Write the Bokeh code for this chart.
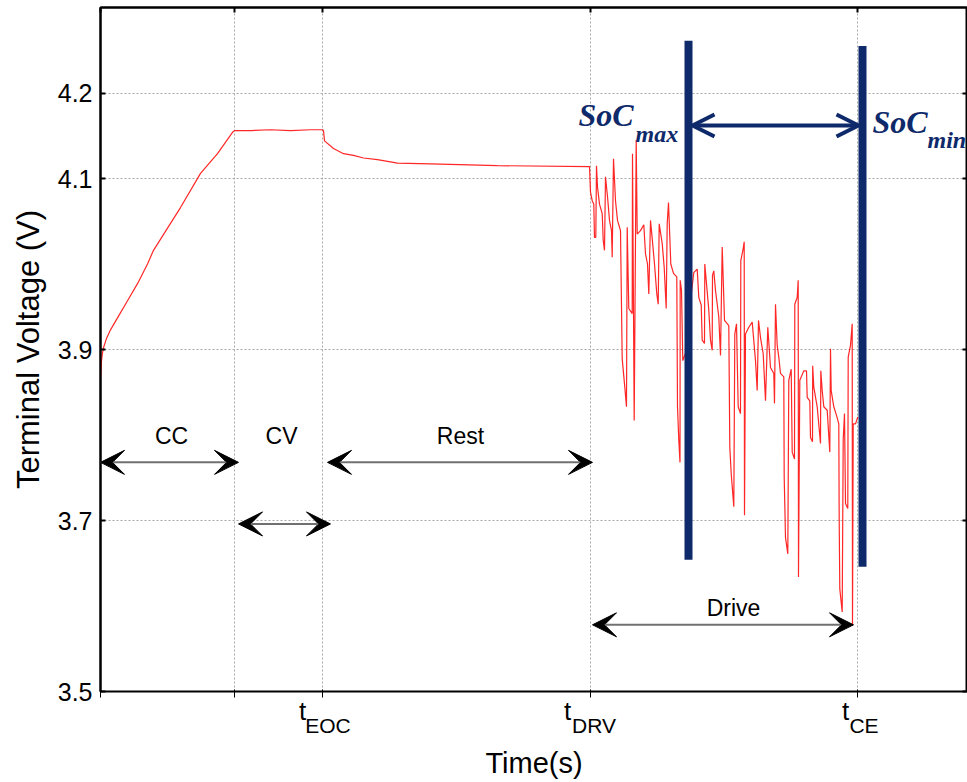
from bokeh.plotting import figure
from bokeh.models import Range1d, FixedTicker, Label, Arrow, VeeHead, OpenHead, LinearAxis
from bokeh.embed import file_html
from bokeh.resources import INLINE

# ---------------- data (time in s, voltage in V) ----------------
charge_t = [0, 10, 20, 30, 60, 100, 170, 270, 370, 470, 530, 670, 800, 1000, 1170, 1320, 1340]
charge_v = [3.866, 3.887, 3.896, 3.902, 3.913, 3.923, 3.937, 3.957, 3.977, 4.000, 4.016,
            4.042, 4.066, 4.106, 4.129, 4.154, 4.156]
cv_t = [1500, 1700, 1900, 2100, 2220]
cv_v = [4.156, 4.157, 4.156, 4.157, 4.157]
rest_t = [2230, 2240, 2330, 2430, 2530, 2630, 2770, 2970, 3300, 3970, 4890]
rest_v = [4.156, 4.144, 4.135, 4.129, 4.127, 4.124, 4.122, 4.118, 4.117, 4.115, 4.114]
drive_t = [4900, 4917, 4933, 4940, 4953, 4960, 4970, 4990, 5017, 5027, 5040, 5050, 5070, 5090,
           5110, 5117, 5130, 5150, 5170, 5200, 5217, 5243, 5260, 5267, 5283, 5317, 5320, 5337,
           5357, 5367, 5400, 5433, 5450, 5470, 5483, 5500, 5517, 5540, 5563, 5577, 5587, 5617,
           5637, 5657, 5667, 5680, 5703, 5730, 5763, 5770, 5783, 5795, 5797, 5810, 5823, 5860,
           5900, 5933, 5967, 5983, 6007, 6017, 6040, 6043, 6060, 6083, 6100, 6117, 6120, 6133,
           6150, 6183, 6200, 6217, 6240, 6283, 6293, 6307, 6333, 6343, 6360, 6377, 6400, 6403,
           6427, 6437, 6440, 6450, 6483, 6517, 6550, 6567, 6580, 6600, 6627, 6650, 6673, 6700,
           6733, 6740, 6750, 6767, 6783, 6800, 6833, 6837, 6850, 6873, 6883, 6907, 6917, 6940,
           6943, 6967, 6977, 6980, 6993, 7033, 7060, 7067, 7093, 7100, 7120, 7122, 7133, 7167,
           7200, 7203, 7217, 7233, 7267, 7293, 7300, 7307, 7333, 7360, 7383, 7387, 7393, 7417,
           7427, 7440, 7450, 7473, 7477, 7500, 7517, 7520, 7527, 7550, 7573]
drive_v = [4.084, 4.074, 4.070, 4.031, 4.031, 4.115, 4.090, 4.070, 4.059, 4.028, 4.016, 4.102,
           4.079, 4.051, 4.039, 4.008, 4.123, 4.074, 4.051, 4.039, 3.889, 3.856, 3.833, 4.043,
           3.948, 3.942, 4.129, 3.817, 4.145, 4.035, 4.039, 4.046, 4.012, 4.000, 3.965, 4.051,
           4.030, 4.000, 3.965, 3.953, 4.047, 4.024, 3.996, 3.948, 4.047, 4.072, 4.000, 3.989,
           3.985, 3.833, 3.794, 3.768, 3.981, 3.969, 3.887, 3.899, 3.957, 3.990, 3.994, 3.961,
           3.952, 3.911, 3.907, 4.000, 3.977, 3.946, 3.911, 3.899, 3.987, 3.992, 3.969, 3.938,
           3.893, 4.020, 3.934, 3.928, 3.786, 3.755, 3.716, 3.918, 3.930, 3.833, 3.825, 4.004,
           4.018, 4.026, 3.706, 3.918, 3.926, 3.932, 3.887, 3.852, 3.934, 3.914, 3.895, 3.840,
           3.926, 3.879, 3.872, 3.837, 3.953, 3.905, 3.891, 3.872, 3.868, 3.751, 3.680, 3.661,
           3.864, 3.877, 3.780, 3.772, 3.953, 3.961, 3.981, 3.634, 3.864, 3.875, 3.875, 3.844,
           3.840, 3.797, 3.792, 3.881, 3.856, 3.833, 3.790, 3.875, 3.852, 3.833, 3.829, 3.780,
           3.901, 3.852, 3.833, 3.823, 3.813, 3.700, 3.620, 3.593, 3.794, 3.825, 3.720, 3.714,
           3.891, 3.905, 3.930, 3.577, 3.813, 3.813, 3.821]

x_ticks = [0, 1340, 2220, 4900, 7570]
y_ticks = [3.5, 3.7, 3.9, 4.1, 4.2]
y_tick_labels = ["3.5", "3.7", "3.9", "4.1", "4.2"]
tick_names = ["EOC", "DRV", "CE"]
tick_pos = [2220, 4900, 7570]
t_label_shift = [-200, -230, -120]     # where the "t" of each tick label sits
sub_label_shift = [55, 35, 65]         # where the subscript of each tick label sits

phase_names = ["CC", "CV", "Rest", "Drive"]
phase_start = [0, 1380, 2270, 4920]
phase_end = [1380, 2300, 4920, 7530]
phase_v = [3.768, 3.696, 3.768, 3.578]
phase_label_t = [710, 1810, 3600, 6330]
phase_label_v = [3.799, 3.799, 3.799, 3.598]

soc_names = ["max", "min"]
soc_t = [5880, 7620]
soc_top = [4.261, 4.255]
soc_bottom = [3.654, 3.646]
soc_label_t = [4780, 7720]
soc_label_v = [4.174, 4.166]
soc_sub_t = [5350, 8270]
soc_sub_v = [4.152, 4.145]
soc_arrow_v = 4.162

NAVY = "#0f2a6a"
FONT = "Liberation Sans"
SERIF = "Liberation Serif"

p = figure(width=967, height=782, output_backend="svg", toolbar_location=None,
           x_range=Range1d(0, 8670), y_range=Range1d(3.5, 4.3),
           min_border_left=100, min_border_right=0, min_border_top=7, min_border_bottom=91)
p.background_fill_color = "white"
p.border_fill_color = "white"
p.outline_line_color = "black"
p.outline_line_width = 2

# axes
p.xaxis.ticker = FixedTicker(ticks=x_ticks)
p.yaxis.ticker = FixedTicker(ticks=y_ticks)
p.xaxis.major_label_overrides = {t: "" for t in x_ticks}
p.xaxis.major_label_text_font_size = "0px"
p.xaxis.major_label_standoff = 0
p.yaxis.major_label_overrides = dict(zip(y_ticks, y_tick_labels))
p.yaxis.major_label_text_font = FONT
p.yaxis.major_label_text_font_size = "25px"
p.yaxis.major_label_text_color = "black"
p.yaxis.major_label_standoff = 8
p.yaxis.axis_label = "Terminal Voltage (V)"
p.yaxis.axis_label_text_font = FONT
p.yaxis.axis_label_text_font_size = "31px"
p.yaxis.axis_label_text_font_style = "normal"
p.yaxis.axis_label_text_color = "black"
p.yaxis.axis_label_standoff = 9

# box ticks on top and right (no labels)
top_axis = LinearAxis(ticker=FixedTicker(ticks=x_ticks),
                      major_label_overrides={t: "" for t in x_ticks},
                      major_label_text_font_size="0px", major_label_standoff=0)
right_axis = LinearAxis(ticker=FixedTicker(ticks=y_ticks),
                        major_label_overrides={t: "" for t in y_ticks},
                        major_label_text_font_size="0px", major_label_standoff=0)
p.add_layout(top_axis, "above")
p.add_layout(right_axis, "right")

for ax in (p.xaxis[0], p.yaxis[0], top_axis, right_axis):
    ax.axis_line_width = 2
    ax.axis_line_color = "black"
    ax.major_tick_in = 5
    ax.major_tick_out = 0
    ax.major_tick_line_width = 2
    ax.minor_tick_line_color = None

# tick labels "t" + subscript, drawn as two extra label-only axes
t_axis = LinearAxis(ticker=FixedTicker(ticks=[a + b for a, b in zip(tick_pos, t_label_shift)]),
                    major_label_overrides={a + b: "t" for a, b in zip(tick_pos, t_label_shift)},
                    axis_line_color=None, major_tick_line_color=None, minor_tick_line_color=None,
                    major_tick_in=0, major_tick_out=0,
                    major_label_text_font=FONT, major_label_text_font_size="26px",
                    major_label_text_color="black",
                    major_label_standoff=-2)
sub_axis = LinearAxis(ticker=FixedTicker(ticks=[a + b for a, b in zip(tick_pos, sub_label_shift)]),
                      major_label_overrides={a + b: n for a, b, n in zip(tick_pos, sub_label_shift, tick_names)},
                      axis_line_color=None, major_tick_line_color=None, minor_tick_line_color=None,
                      major_tick_in=0, major_tick_out=0,
                      major_label_text_font=FONT, major_label_text_font_size="21px",
                      major_label_text_color="black",
                      major_label_standoff=-15,
                      axis_label="Time(s)", axis_label_text_font=FONT,
                      axis_label_text_font_size="29px", axis_label_text_font_style="normal",
                      axis_label_text_color="black",
                      axis_label_standoff=7)
p.add_layout(t_axis, "below")
p.add_layout(sub_axis, "below")

p.grid.grid_line_color = "#a8a8a8"
p.grid.grid_line_dash = "2 2"
p.grid.grid_line_width = 1

# voltage trace
all_t = charge_t + cv_t + rest_t + drive_t
all_v = charge_v + cv_v + rest_v + drive_v
p.line(all_t, all_v, line_color="#ff0000", line_width=1.2, line_alpha=0.85)

# SoC bars
p.segment(x0=soc_t, y0=soc_bottom, x1=soc_t, y1=soc_top, line_color=NAVY, line_width=8)
p.add_layout(Arrow(start=OpenHead(size=22, line_color=NAVY, line_width=4),
                   end=OpenHead(size=22, line_color=NAVY, line_width=4),
                   x_start=soc_t[0] + 40, y_start=soc_arrow_v, x_end=soc_t[1] - 40, y_end=soc_arrow_v,
                   line_color=NAVY, line_width=4))
for i in range(2):
    p.add_layout(Label(x=soc_label_t[i], y=soc_label_v[i], text="SoC", text_font=SERIF,
                       text_font_size="32px", text_font_style="bold italic", text_color=NAVY,
                       text_baseline="middle"))
    p.add_layout(Label(x=soc_sub_t[i], y=soc_sub_v[i], text=soc_names[i], text_font=SERIF,
                       text_font_size="24px", text_font_style="bold italic", text_color=NAVY,
                       text_baseline="middle"))

# phase arrows
for i in range(4):
    p.add_layout(Arrow(start=VeeHead(size=24, fill_color="black", line_color="black"),
                       end=VeeHead(size=24, fill_color="black", line_color="black"),
                       x_start=phase_start[i], y_start=phase_v[i], x_end=phase_end[i], y_end=phase_v[i],
                       line_color="#707070", line_width=2))
    p.add_layout(Label(x=phase_label_t[i], y=phase_label_v[i], text=phase_names[i], text_font=FONT,
                       text_font_size="23px", text_align="center", text_baseline="middle",
                       text_color="black"))

open("out.html", "w").write(file_html(p, INLINE))
